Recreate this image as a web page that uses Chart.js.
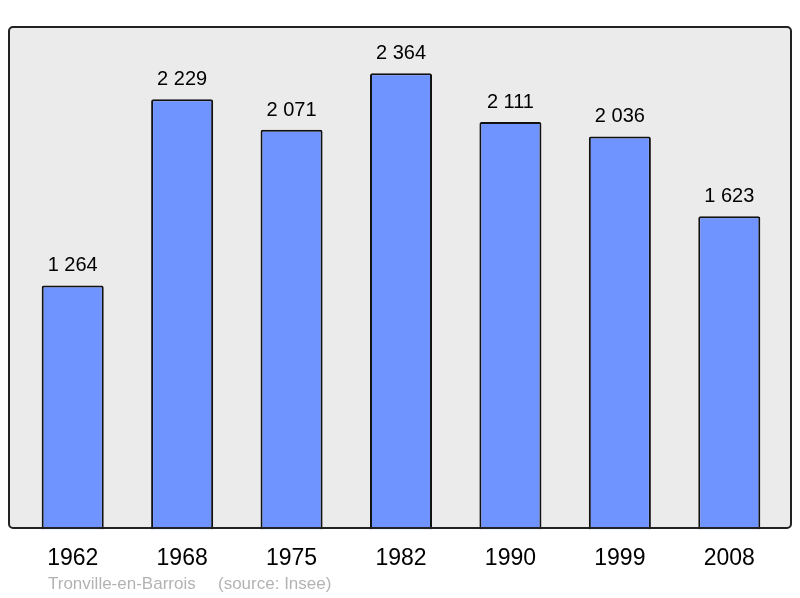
<!DOCTYPE html>
<html>
<head>
<meta charset="utf-8">
<script src="https://cdn.jsdelivr.net/npm/chart.js@4/dist/chart.umd.min.js"></script>
<style>
  html, body { margin: 0; padding: 0; background: #fff; }
  #wrap { width: 800px; height: 598px; }
</style>
</head>
<body>
<div id="wrap"><canvas id="myChart" width="800" height="598"></canvas></div>
<script>
let years = ['1962', '1968', '1975', '1982', '1990', '1999', '2008'];
let population = [1264, 2229, 2071, 2364, 2111, 2036, 1623];
let townName = 'Tronville-en-Barrois';
let sourceNote = '(source: Insee)';

function fmt(n) {
    let s = String(n);
    return s.length > 3 ? s.slice(0, s.length - 3) + ' ' + s.slice(-3) : s;
}

// grey box with rounded border behind the bars
const framePlugin = {
    id: 'frame',
    beforeDraw: function (chart) {
        let c = chart.ctx;
        c.save();
        c.beginPath();
        c.roundRect(9, 27, 782, 501, 4);
        c.fillStyle = '#ebebeb';
        c.fill();
        c.restore();
    },
    afterDatasetsDraw: function (chart) {
        let c = chart.ctx;
        c.save();
        c.beginPath();
        c.roundRect(9, 27, 782, 501, 4);
        c.lineWidth = 2;
        c.strokeStyle = '#222';
        c.stroke();
        // value labels above bars
        c.font = '20px "Liberation Sans", Arial, sans-serif';
        c.fillStyle = '#000';
        c.textAlign = 'center';
        c.textBaseline = 'alphabetic';
        chart.getDatasetMeta(0).data.forEach(function (bar, i) {
            c.fillText(fmt(population[i]), bar.x, bar.y - 14);
        });
        // source line
        c.font = '17px "Liberation Sans", Arial, sans-serif';
        c.fillStyle = '#b3b3b3';
        c.textAlign = 'left';
        c.fillText(townName, 48, 589);
        c.fillText(sourceNote, 218, 589);
        c.restore();
    }
};

var ctx = document.getElementById('myChart');
var myChart = new Chart(ctx, {
    type: 'bar',
    data: {
        labels: years,
        datasets: [{
            data: population,
            backgroundColor: '#7094ff',
            borderColor: '#111',
            borderWidth: 2,
            borderRadius: 2,
            borderSkipped: 'bottom',
            barPercentage: 0.567,
            categoryPercentage: 1
        }]
    },
    plugins: [framePlugin],
    options: {
        responsive: false,
        animation: false,
        layout: { padding: { left: 18, right: 16, top: 27, bottom: 19 } },
        plugins: { legend: { display: false }, tooltip: { enabled: false } },
        scales: {
            y: { display: false, min: 0, max: 2603 },
            x: {
                offset: true,
                grid: { display: false },
                border: { display: false },
                ticks: {
                    color: '#000',
                    padding: 7,
                    font: { size: 23, family: '"Liberation Sans", Arial, sans-serif' }
                }
            }
        }
    }
});
</script>
</body>
</html>
